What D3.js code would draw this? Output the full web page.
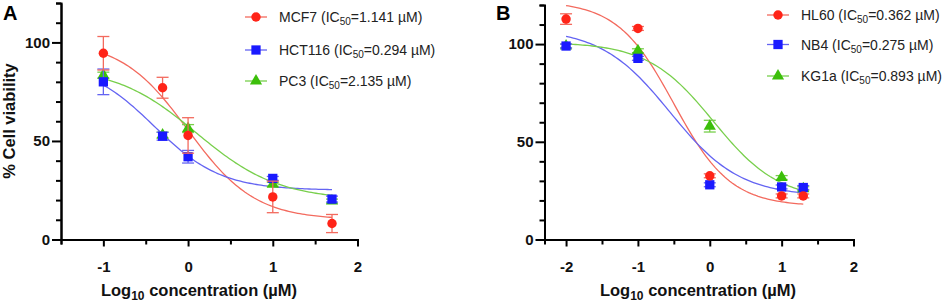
<!DOCTYPE html>
<html>
<head>
<meta charset="utf-8">
<script src="https://cdn.jsdelivr.net/npm/d3@7"></script>
<style>
  body { margin: 0; background: #fff; }
  svg { display: block; font-family: "Liberation Sans", Arial, sans-serif; }
</style>
</head>
<body>
<svg></svg>
<script>
// panel A: solid tumour lines
const concA = [-1, -0.301, 0, 1, 1.699];
const mcf7 = [94.5, 77, 52.8, 21.6, 8.1];
const mcf7Err = [8.5, 5.3, 9, 8, 4.6];
const hct116 = [80, 52.4, 42, 31, 20.5];
const hct116Err = [6.5, 2, 3.2, 1, 1.5];
const pc3 = [83.4, 53, 56.3, 28, 19.5];
const pc3Err = [1.5, 1.5, 2, 1, 1];
const namesA = ['MCF7', 'HCT116', 'PC3'];
const ic50A = ['1.141', '0.294', '2.135'];
// 4PL fit: top, bottom, logIC50, hill
const fitTopA = [101, 90, 88];
const fitBottomA = [10, 25, 20];
const fitMidA = [0, -0.4, 0.1];
const fitHillA = [1.1, 1.1, 0.9];

// panel B: leukaemia lines
const concB = [-2, -1, 0, 1, 1.301];
const hl60 = [112.8, 108, 32.6, 22.3, 22.3];
const hl60Err = [2.7, 1, 1, 1, 1];
const nb4 = [99, 92.7, 28, 26.9, 26.6];
const nb4Err = [1, 1, 1, 1, 1];
const kg1a = [99, 96.6, 58, 31.7, 26];
const kg1aErr = [1, 1, 3, 1, 1];
const namesB = ['HL60', 'NB4', 'KG1a'];
const ic50B = ['0.362', '0.275', '0.893'];
const fitTopB = [122, 108, 101];
const fitBottomB = [17, 22, 20];
const fitMidB = [-0.5, -0.55, 0.05];
const fitHillB = [1.1, 0.9, 0.95];

const xTicksA = [-1, 0, 1, 2];
const xMinorA = [-1.5, -0.5, 0.5, 1.5];
const xTicksB = [-2, -1, 0, 1, 2];
const xMinorB = [-1.5, -0.5, 0.5, 1.5];
const yTicks = [0, 50, 100];
const yMinor = [10, 20, 30, 40, 60, 70, 80, 90, 110, 120];

const markColor = ['#ff2418', '#1a1aff', '#3cbf0a'];
const lineColor = ['#f36a5e', '#6464f2', '#78cf4c'];
const shapes = [d3.symbolCircle, d3.symbolSquare, d3.symbolTriangle];
const shapeSize = [70, 86, 64];

const svg = d3.select('svg')
  .attr('width', 948)
  .attr('height', 304);

const drawPanel = (p) => {
  const x = d3.scaleLinear().domain(p.xDomain).range(p.xRange);
  const y = d3.scaleLinear().domain([0, 120]).range(p.yRange);
  const g = svg.append('g');
  const y0 = y(0);

  // curves
  p.series.forEach((s, i) => {
    const xs = d3.range(0, 101).map(k => p.conc[0] + (p.conc[p.conc.length - 1] - p.conc[0]) * k / 100);
    const pts = xs.map(v => [v, s.bottom + (s.top - s.bottom) / (1 + Math.pow(10, (v - s.mid) * s.hill))]);
    g.append('path')
      .attr('d', d3.line().x(d => x(d[0])).y(d => y(d[1]))(pts))
      .attr('fill', 'none')
      .attr('stroke', lineColor[i])
      .attr('stroke-width', 1.3);
  });

  // points: last series first so the first one sits on top
  [2, 1, 0].forEach(i => {
    const s = p.series[i];
    const eg = g.append('g').attr('stroke', lineColor[i]).attr('stroke-width', 1.3);
    s.values.forEach((v, j) => {
      const cx = x(p.conc[j]);
      const lo = y(v - s.err[j]), hi = y(v + s.err[j]);
      eg.append('line').attr('x1', cx).attr('x2', cx).attr('y1', lo).attr('y2', hi);
      eg.append('line').attr('x1', cx - 6).attr('x2', cx + 6).attr('y1', lo).attr('y2', lo);
      eg.append('line').attr('x1', cx - 6).attr('x2', cx + 6).attr('y1', hi).attr('y2', hi);
    });
    g.append('g').selectAll('path')
      .data(s.values)
      .join('path')
      .attr('transform', (d, j) => `translate(${x(p.conc[j])}, ${y(d)})`)
      .attr('d', d3.symbol().type(shapes[i]).size(shapeSize[i]))
      .attr('fill', markColor[i]);
  });

  // axes
  const styleAxis = (a) => {
    a.selectAll('path, line').attr('stroke', '#000').attr('stroke-width', 2);
    a.selectAll('text')
      .attr('fill', '#111')
      .attr('font-size', 15)
      .attr('font-weight', 'bold');
  };
  g.append('g')
    .attr('transform', `translate(0, ${y0})`)
    .call(d3.axisBottom(x).tickValues(p.xMinor).tickSize(5).tickFormat(''))
    .call(styleAxis);
  g.append('g')
    .attr('transform', `translate(0, ${y0})`)
    .call(d3.axisBottom(x).tickValues(p.xTicks).tickSize(7).tickSizeOuter(0)
      .tickPadding(15).tickFormat(d => String(d)))
    .call(styleAxis);
  g.append('g')
    .attr('transform', `translate(${p.xRange[0]}, 0)`)
    .call(d3.axisLeft(y).tickValues(yMinor).tickSize(5).tickFormat(''))
    .call(styleAxis);
  g.append('g')
    .attr('transform', `translate(${p.xRange[0]}, 0)`)
    .call(d3.axisLeft(y).tickValues(yTicks).tickSize(9).tickSizeOuter(0)
      .tickPadding(2).tickFormat(d => String(d)))
    .call(styleAxis);

  // x title
  const xt = g.append('text')
    .attr('x', p.xTitleX)
    .attr('y', 296)
    .attr('text-anchor', 'middle')
    .attr('font-size', 16.5)
    .attr('font-weight', 'bold')
    .attr('fill', '#111');
  xt.append('tspan').text('Log');
  xt.append('tspan').attr('font-size', 12).attr('dy', 4).text('10');
  xt.append('tspan').attr('dy', -4).text(' concentration (µM)');

  // panel letter
  g.append('text')
    .attr('x', p.letterX)
    .attr('y', 20)
    .attr('font-size', 20)
    .attr('font-weight', 'bold')
    .text(p.letter);

  // legend
  p.series.forEach((s, i) => {
    const ly = p.legendY[i];
    const lg = g.append('g').attr('transform', `translate(${p.legendX}, ${ly})`);
    lg.append('line')
      .attr('x1', 0).attr('x2', 22)
      .attr('stroke', lineColor[i]).attr('stroke-width', 1.3);
    lg.append('path')
      .attr('transform', 'translate(11, 0)')
      .attr('d', d3.symbol().type(shapes[i]).size(shapeSize[i]))
      .attr('fill', markColor[i]);
    const t = lg.append('text')
      .attr('x', 34)
      .attr('y', 5)
      .attr('font-size', 14)
      .attr('fill', '#222');
    t.append('tspan').text(`${s.name} (IC`);
    t.append('tspan').attr('font-size', 10).attr('dy', 3).text('50');
    t.append('tspan').attr('dy', -3).text(`=${s.ic50} µM)`);
  });
};

const makeSeries = (vals, errs, names, ic, top, bottom, mid, hill) =>
  vals.map((v, i) => ({
    values: v, err: errs[i], name: names[i], ic50: ic[i],
    top: top[i], bottom: bottom[i], mid: mid[i], hill: hill[i]
  }));

drawPanel({
  letter: 'A', letterX: 3,
  conc: concA,
  xDomain: [-1.5, 2], xRange: [61, 357.5], yRange: [239.5, 3],
  xTicks: xTicksA, xMinor: xMinorA,
  xTitleX: 199,
  legendX: 245, legendY: [17, 50, 81],
  series: makeSeries([mcf7, hct116, pc3], [mcf7Err, hct116Err, pc3Err], namesA, ic50A,
    fitTopA, fitBottomA, fitMidA, fitHillA)
});

drawPanel({
  letter: 'B', letterX: 496,
  conc: concB,
  xDomain: [-2.3, 2], xRange: [544.5, 853.5], yRange: [239.5, 5],
  xTicks: xTicksB, xMinor: xMinorB,
  xTitleX: 698,
  legendX: 767, legendY: [15, 44.5, 76],
  series: makeSeries([hl60, nb4, kg1a], [hl60Err, nb4Err, kg1aErr], namesB, ic50B,
    fitTopB, fitBottomB, fitMidB, fitHillB)
});

// y title (panel A only)
svg.append('text')
  .attr('transform', 'translate(15, 121) rotate(-90)')
  .attr('text-anchor', 'middle')
  .attr('font-size', 16.5)
  .attr('font-weight', 'bold')
  .attr('fill', '#111')
  .text('% Cell viability');
</script>
</body>
</html>
